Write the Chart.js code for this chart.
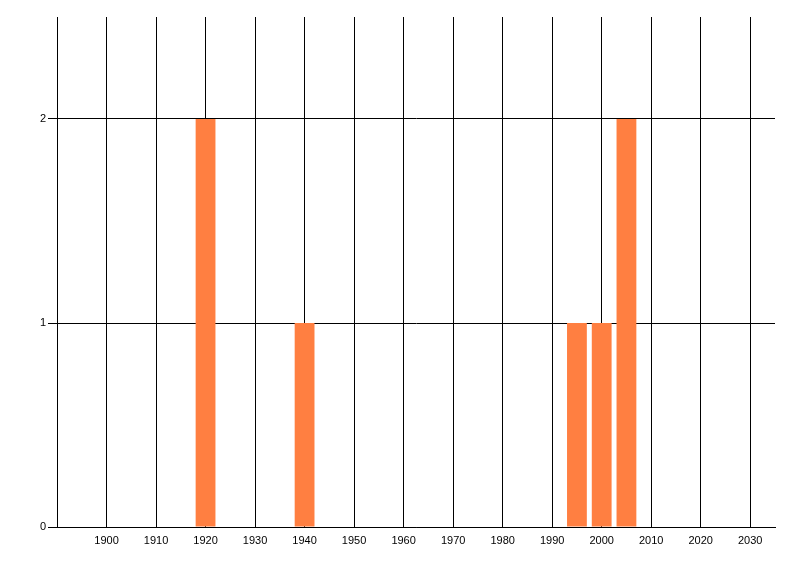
<!DOCTYPE html>
<html>
<head>
<meta charset="utf-8">
<script src="https://cdn.jsdelivr.net/npm/chart.js@4/dist/chart.umd.min.js"></script>
<style>
	html, body { margin: 0; padding: 0; background: #fff; }
	#wrap { width: 800px; height: 576px; }
</style>
</head>
<body>
<div id="wrap"><canvas id="yearChart"></canvas></div>
<script>
// Data
const years = [1920, 1940, 1995, 2000, 2005];
const counts = [2, 1, 1, 1, 2];
const xTicks = [1890, 1900, 1910, 1920, 1930, 1940, 1950, 1960, 1970, 1980, 1990, 2000, 2010, 2020, 2030];
const yTicks = [0, 1, 2];

document.addEventListener('DOMContentLoaded', function(){
	const ctx = document.getElementById('yearChart').getContext('2d');
	const points = years.map((y, i) => ({ x: y, y: counts[i] }));

	new Chart(ctx, {
		type: 'bar',
		data: {
			datasets: [{
				data: points,
				backgroundColor: '#ff7f41',
				borderWidth: 0,
				barPercentage: 0.8,
				categoryPercentage: 1
			}]
		},
		options: {
			responsive: true,
			maintainAspectRatio: false,
			animation: false,
			devicePixelRatio: 1,
			layout: { padding: { top: 17, right: 25, bottom: 0, left: 0 } },
			plugins: { legend: { display: false }, tooltip: { enabled: false } },
			scales: {
				x: {
					type: 'linear',
					min: 1890,
					max: 2035,
					offset: false,
					afterBuildTicks: s => { s.ticks = xTicks.map(v => ({ value: v })); },
					afterFit: s => { s.height = 49; },
					border: { display: true, color: '#000', width: 1 },
					grid: { color: '#000', lineWidth: 1, drawTicks: false, offset: false },
					ticks: {
						color: '#000',
						padding: 7,
						maxRotation: 0,
						autoSkip: false,
						font: { family: 'Liberation Sans', size: 11 },
						callback: v => v === 1890 ? '' : String(v)
					}
				},
				y: {
					min: 0,
					max: 2.5,
					afterBuildTicks: s => { s.ticks = yTicks.map(v => ({ value: v })); },
					afterFit: s => { s.width = 57; },
					border: { display: true, color: '#000', width: 1 },
					grid: { color: '#000', lineWidth: 1, tickLength: 9 },
					ticks: {
						color: '#000',
						padding: 2,
						font: { family: 'Liberation Sans', size: 11 }
					}
				}
			}
		}
	});
});
</script>
</body>
</html>
